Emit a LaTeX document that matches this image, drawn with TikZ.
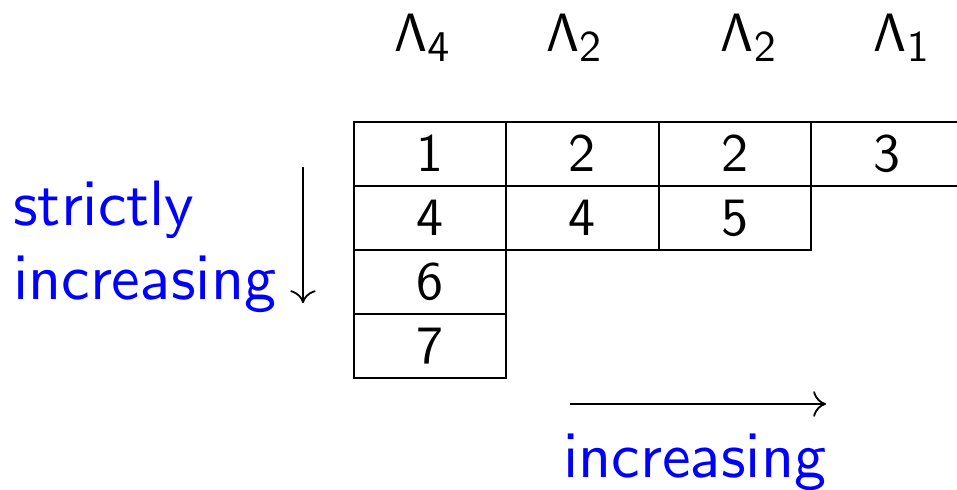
\documentclass[tikz,border=0pt]{standalone}
\usepackage{tikz}
\usetikzlibrary{arrows.meta,positioning}
% sans at the 10pt design, at any size
\DeclareFontFamily{OT1}{cmssten}{}
\DeclareFontShape{OT1}{cmssten}{m}{n}{<-> cmss10}{}
\DeclareMathAlphabet{\mathssten}{OT1}{cmssten}{m}{n}
\DeclareMathSizes{24}{24}{19.5}{15}
\newcommand{\sften}{\fontencoding{OT1}\fontfamily{cmssten}\selectfont}
\tikzset{
  cellbox/.style={
    rectangle, draw=black, thick,
    minimum width=2.38cm, minimum height=1cm,
    inner sep=0pt, outer sep=0pt,
    font=\fontsize{24}{28}\sften
  },
  colname/.style={anchor=base, inner sep=0pt,
    font=\fontsize{24}{28}\sften},
  notelabel/.style={text=blue, inner sep=0pt,
    font=\fontsize{28.5}{34}\sften},
  orderarrow/.style={
    -{Computer Modern Rightarrow[length=2mm, width=4mm]}, thick
  },
}
\begin{document}
\begin{tikzpicture}
\useasboundingbox (-5.531,-5.75) rectangle (9.422,1.906);
% first row
\node[cellbox, anchor=north west] (c11) at (0,0) {1};
\node[cellbox, right=0pt of c11] (c12) {2};
\node[cellbox, right=0pt of c12] (c13) {2};
\node[cellbox, right=0pt of c13] (c14) {3};
% second row
\node[cellbox, below=0pt of c11] (c21) {4};
\node[cellbox, right=0pt of c21] (c22) {4};
\node[cellbox, right=0pt of c22] (c23) {5};
% first column
\node[cellbox, below=0pt of c21] (c31) {6};
\node[cellbox, below=0pt of c31] (c41) {7};
% column weights
\node[colname] (l1) at (1.07,1.094) {$\mathssten{\Lambda_4}$};
\node[colname] (l2) at (3.44,1.094) {$\mathssten{\Lambda_2}$};
\node[colname] (l3) at (6.17,1.094) {$\mathssten{\Lambda_2}$};
\node[colname] (l4) at (8.56,1.094) {$\mathssten{\Lambda_1}$};
% columns
\node[notelabel, anchor=base west] (strict) at (-5.33,-1.61) {strictly};
\node[notelabel, anchor=base west] (incl) at (-5.33,-2.78) {increasing};
\coordinate (vtop) at (-0.797,-0.70);
\coordinate (vbot) at (-0.797,-2.83);
\draw[orderarrow] (vtop) -- (vbot);
% rows
\coordinate (hleft) at (3.375,-4.406);
\coordinate (hright) at (7.375,-4.406);
\draw[orderarrow] (hleft) -- (hright);
\node[notelabel, anchor=base] (incr) at (5.33,-5.55) {increasing};
\end{tikzpicture}
\end{document}
